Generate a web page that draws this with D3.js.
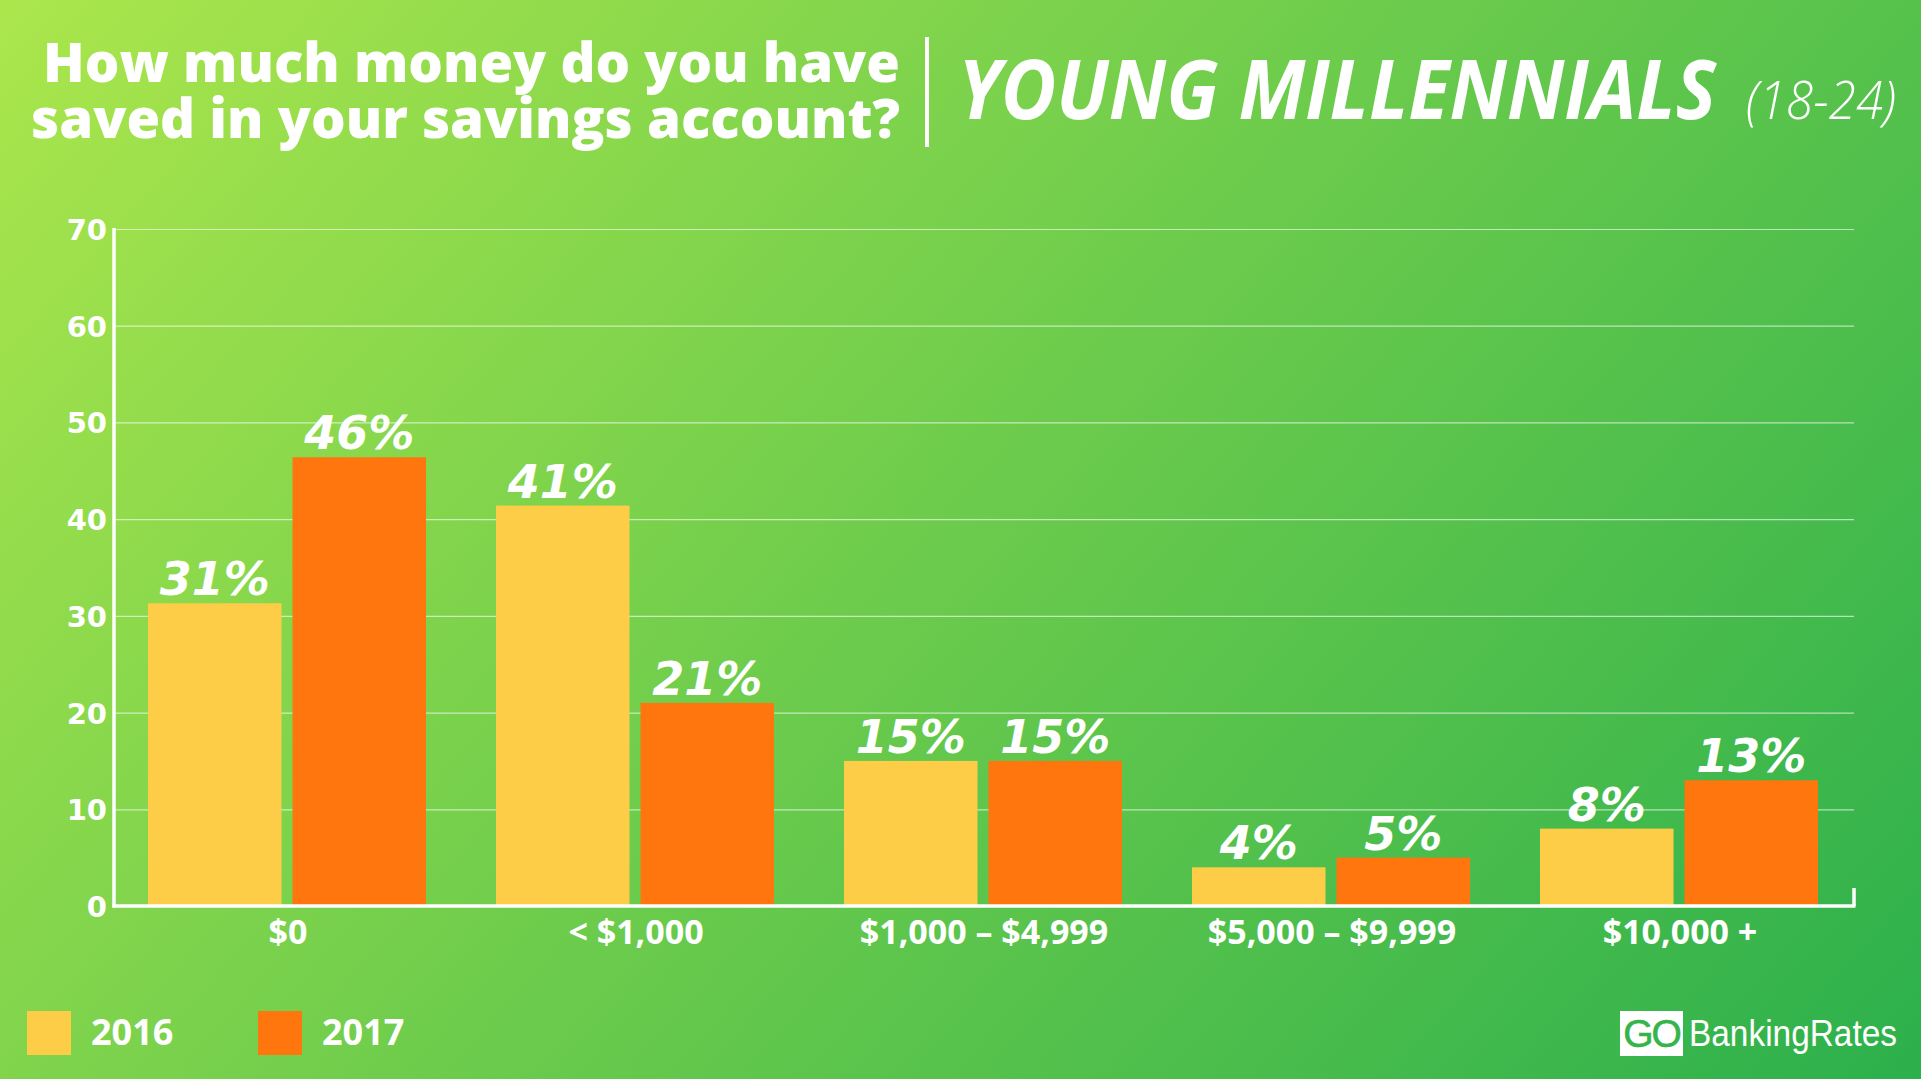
<!DOCTYPE html>
<html><head><meta charset="utf-8">
<script src="https://cdn.jsdelivr.net/npm/d3@7/dist/d3.min.js"></script>
<style>html,body{margin:0;padding:0;overflow:hidden;background:#fff}</style>
</head><body>
<svg id="chart" width="1921" height="1081"></svg>
<script>
// ---- data ----
const categories = ["$0", "< $1,000", "$1,000 – $4,999", "$5,000 – $9,999", "$10,000 +"];
const seriesNames = ["2016", "2017"];
const values2016 = [31.3, 41.4, 15, 4, 8];
const values2017 = [46.4, 21, 15, 5, 13];
const yTicks = [0, 10, 20, 30, 40, 50, 60, 70];
const seriesColors = ["#fecd48", "#fe760d"];

const W = 1921, H = 1081;
const plot = {left: 114, right: 1854, top: 229, bottom: 906};

const svg = d3.select("#chart");
const defs = svg.append("defs");
const grad = defs.append("linearGradient").attr("id", "bg")
  .attr("gradientUnits", "userSpaceOnUse")
  .attr("x1", 0).attr("y1", 0).attr("x2", 1610).attr("y2", 1431);
grad.append("stop").attr("offset", 0).attr("stop-color", "#abe64c");
grad.append("stop").attr("offset", 0.5).attr("stop-color", "#6bcb4c");
grad.append("stop").attr("offset", 1).attr("stop-color", "#2cb04c");
svg.append("rect").attr("width", W).attr("height", H).attr("fill", "url(#bg)");

// ---- scales ----
const x0 = d3.scaleBand().domain(categories).range([plot.left, plot.right]).padding(0);
const x1 = d3.scaleBand().domain(seriesNames).range([34, 312]).paddingInner(0.0761).paddingOuter(0);
const y = d3.scaleLinear().domain([0, 70]).range([plot.bottom, plot.top]);

// gridlines
const grid = svg.append("g").attr("transform", `translate(${plot.left},0)`)
  .call(d3.axisLeft(y).tickValues(yTicks.filter(d => d > 0)).tickSize(-(plot.right - plot.left)).tickFormat(""));
grid.select(".domain").remove();
grid.selectAll("line").attr("stroke", "#ffffff").attr("stroke-opacity", 0.6).attr("stroke-width", 1.2);

// y axis labels
const yAx = svg.append("g").attr("transform", `translate(${plot.left},0)`)
  .call(d3.axisLeft(y).tickValues(yTicks).tickSize(0).tickPadding(7));
yAx.select(".domain").remove();
yAx.selectAll("text").attr("fill", "#fff").attr("font-family", "DejaVu Sans").attr("font-weight", "bold")
  .attr("font-size", 29).attr("dy", "0.36em");

// bars
const rows = categories.map((c, i) => ({cat: c, vals: [values2016[i], values2017[i]]}));
const groups = svg.append("g").selectAll("g").data(rows).join("g")
  .attr("transform", d => `translate(${x0(d.cat)},0)`);
groups.selectAll("rect").data(d => d.vals.map((v, j) => ({s: seriesNames[j], v, j}))).join("rect")
  .attr("x", d => x1(d.s)).attr("width", x1.bandwidth())
  .attr("y", d => y(d.v)).attr("height", d => y(0) - y(d.v))
  .attr("fill", d => seriesColors[d.j]);
groups.selectAll("text.val").data(d => d.vals.map((v, j) => ({s: seriesNames[j], v, j}))).join("text")
  .attr("class", "val")
  .attr("x", d => x1(d.s) + x1.bandwidth() / 2).attr("y", d => y(d.v) - 8)
  .attr("text-anchor", "middle").attr("fill", "#fff")
  .attr("font-family", "DejaVu Sans").attr("font-weight", "bold").attr("font-style", "oblique")
  .attr("font-size", 46).text(d => Math.round(d.v) + "%");

// axis lines
svg.append("line").attr("x1", plot.left).attr("x2", plot.left).attr("y1", plot.top - 1).attr("y2", plot.bottom + 1.5)
  .attr("stroke", "#fff").attr("stroke-width", 3.5);
svg.append("line").attr("x1", plot.left - 1.5).attr("x2", plot.right + 1.5).attr("y1", plot.bottom).attr("y2", plot.bottom)
  .attr("stroke", "#fff").attr("stroke-width", 3.5);
svg.append("line").attr("x1", plot.right).attr("x2", plot.right).attr("y1", plot.bottom).attr("y2", plot.bottom - 18)
  .attr("stroke", "#fff").attr("stroke-width", 3.5);

// x axis labels
const xAx = svg.append("g").attr("transform", `translate(0,${plot.bottom})`)
  .call(d3.axisBottom(x0).tickSize(0).tickPadding(0));
xAx.select(".domain").remove();
xAx.selectAll("text").attr("fill", "#fff").attr("font-family", "Open Sans").attr("font-weight", "bold")
  .attr("font-size", 34).attr("dy", 0).attr("y", 38);

// title
const title = svg.append("g").attr("fill", "#fff").attr("font-family", "Open Sans").attr("font-weight", 800);
title.append("text").attr("x", 900).attr("y", 82).attr("text-anchor", "end").attr("font-size", 54)
  .attr("textLength", 857).attr("lengthAdjust", "spacingAndGlyphs").text("How much money do you have");
title.append("text").attr("x", 900).attr("y", 138).attr("text-anchor", "end").attr("font-size", 54)
  .attr("textLength", 869).attr("lengthAdjust", "spacingAndGlyphs").text("saved in your savings account?");
svg.append("line").attr("x1", 927).attr("x2", 927).attr("y1", 37).attr("y2", 147).attr("stroke", "#fff").attr("stroke-width", 4);
svg.append("text").attr("x", 958).attr("y", 119).attr("fill", "#fff").attr("font-family", "Open Sans")
  .attr("font-weight", "bold").attr("font-style", "italic").attr("font-size", 82)
  .attr("textLength", 758).attr("lengthAdjust", "spacingAndGlyphs").text("YOUNG MILLENNIALS");
svg.append("text").attr("x", 1746).attr("y", 119).attr("fill", "#fff").attr("font-family", "Open Sans")
  .attr("font-weight", 300).attr("font-style", "italic").attr("font-size", 54)
  .attr("textLength", 150).attr("lengthAdjust", "spacingAndGlyphs").text("(18-24)");

// legend
const legX = [27, 258];
const leg = svg.append("g").selectAll("g").data(seriesNames).join("g")
  .attr("transform", (d, i) => `translate(${legX[i]},1011)`);
leg.append("rect").attr("width", 44).attr("height", 44).attr("fill", (d, i) => seriesColors[i]);
leg.append("text").attr("x", 64).attr("y", 34).attr("fill", "#fff").attr("font-family", "Open Sans")
  .attr("font-weight", "bold").attr("font-size", 36).text(d => d);

// logo
svg.append("rect").attr("x", 1620).attr("y", 1011).attr("width", 63).attr("height", 45).attr("fill", "#fff");
svg.append("text").attr("x", 1651.5).attr("y", 1047).attr("text-anchor", "middle").attr("fill", "#35b44a")
  .attr("font-family", "Liberation Sans").attr("font-size", 39).attr("letter-spacing", -2)
  .attr("stroke", "#35b44a").attr("stroke-width", 0.6).text("GO");
svg.append("text").attr("x", 1689).attr("y", 1046).attr("fill", "#fff")
  .attr("font-family", "Liberation Sans").attr("font-size", 36)
  .attr("textLength", 208).attr("lengthAdjust", "spacingAndGlyphs").text("BankingRates");
svg.append("rect").attr("x", 0).attr("y", 1079).attr("width", W).attr("height", 2).attr("fill", "#fff");
</script>
</body></html>
